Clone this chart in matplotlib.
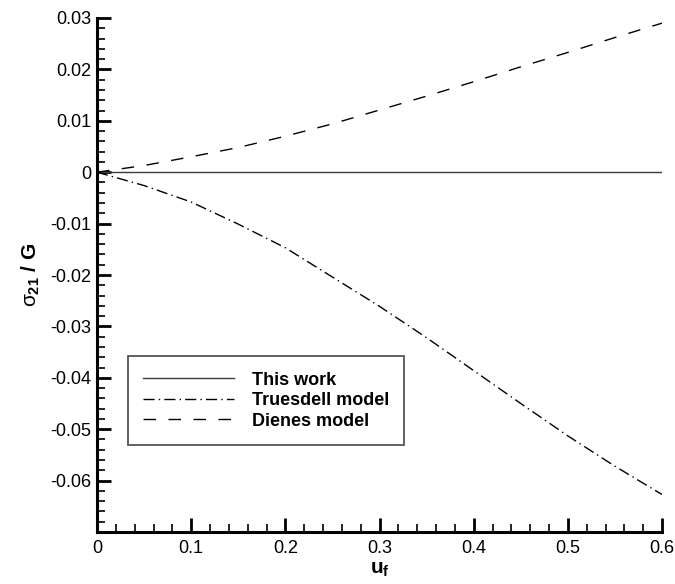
import numpy as np
import matplotlib
matplotlib.use("Agg")
import matplotlib.pyplot as plt
from matplotlib.ticker import MultipleLocator, FuncFormatter

plt.rcParams['font.family'] = ['Liberation Sans', 'DejaVu Sans']
plt.rcParams['axes.unicode_minus'] = False
plt.rcParams['mathtext.fontset'] = 'custom'
plt.rcParams['mathtext.rm'] = 'Liberation Sans'
plt.rcParams['mathtext.it'] = 'Liberation Sans'
plt.rcParams['mathtext.bf'] = 'Liberation Sans:bold'

# values
u_f = [0.0, 0.05, 0.1, 0.15, 0.2, 0.25, 0.3, 0.35, 0.4, 0.45, 0.5, 0.55, 0.6]
this_work = [0.0] * len(u_f)
truesdell = [0.0, -0.0026, -0.0058, -0.0101, -0.0147, -0.0204, -0.0261,
             -0.0322, -0.0386, -0.0450, -0.0513, -0.0572, -0.0627]
dienes = [0.0, 0.0013, 0.0030, 0.0048, 0.0070, 0.0094, 0.0121,
          0.0148, 0.0176, 0.0205, 0.0233, 0.0262, 0.0290]

labels = ["This work", "Truesdell model", "Dienes model"]

fig = plt.figure(figsize=(6.75, 5.84), dpi=100)
ax = fig.add_axes([97/675, 52/584, 565/675, 514/584])

ax.plot(u_f, this_work, color='#3a3a3a', lw=1.0, label=labels[0])
ax.plot(u_f, truesdell, color='black', lw=1.0, dashes=(8, 3, 1, 3), label=labels[1])
ax.plot(u_f, dienes, color='black', lw=1.0, dashes=(9, 9), label=labels[2])

ax.set_xlim(0, 0.6)
ax.set_ylim(-0.07, 0.03)

ax.spines['top'].set_visible(False)
ax.spines['right'].set_visible(False)
ax.spines['left'].set_linewidth(2.2)
ax.spines['bottom'].set_linewidth(2.2)

ax.xaxis.set_major_locator(MultipleLocator(0.1))
ax.xaxis.set_minor_locator(MultipleLocator(0.02))
ax.yaxis.set_major_locator(MultipleLocator(0.01))
ax.yaxis.set_minor_locator(MultipleLocator(0.002))
ax.xaxis.set_major_formatter(FuncFormatter(lambda v, p: '%g' % round(v, 3)))
# the reference leaves the bottom value (-0.07) unlabelled
ax.yaxis.set_major_formatter(FuncFormatter(
    lambda v, p: '' if v < -0.065 else '%g' % round(v, 3)))

ax.tick_params(which='major', direction='in', length=10, width=2.0,
               labelsize=13, pad=6)
ax.tick_params(which='minor', direction='in', length=6, width=1.2)
ax.tick_params(axis='y', which='major', pad=4)

ax.set_xlabel(r'u$_{\mathbf{f}}$', fontsize=15, fontweight='bold', labelpad=2)
ax.set_ylabel(r'$\sigma_{\mathbf{21}}$ / G', fontsize=15, fontweight='bold', labelpad=6)

leg = ax.legend(loc='upper left', bbox_to_anchor=(0.055, 0.342), borderaxespad=0,
                prop={'weight': 'bold', 'size': 13}, handlelength=5.0,
                handletextpad=1.0, labelspacing=0.2, borderpad=0.85,
                fancybox=False, framealpha=1, edgecolor='#555555')
leg.get_frame().set_linewidth(1.3)

fig.savefig('out.png', dpi=100)
